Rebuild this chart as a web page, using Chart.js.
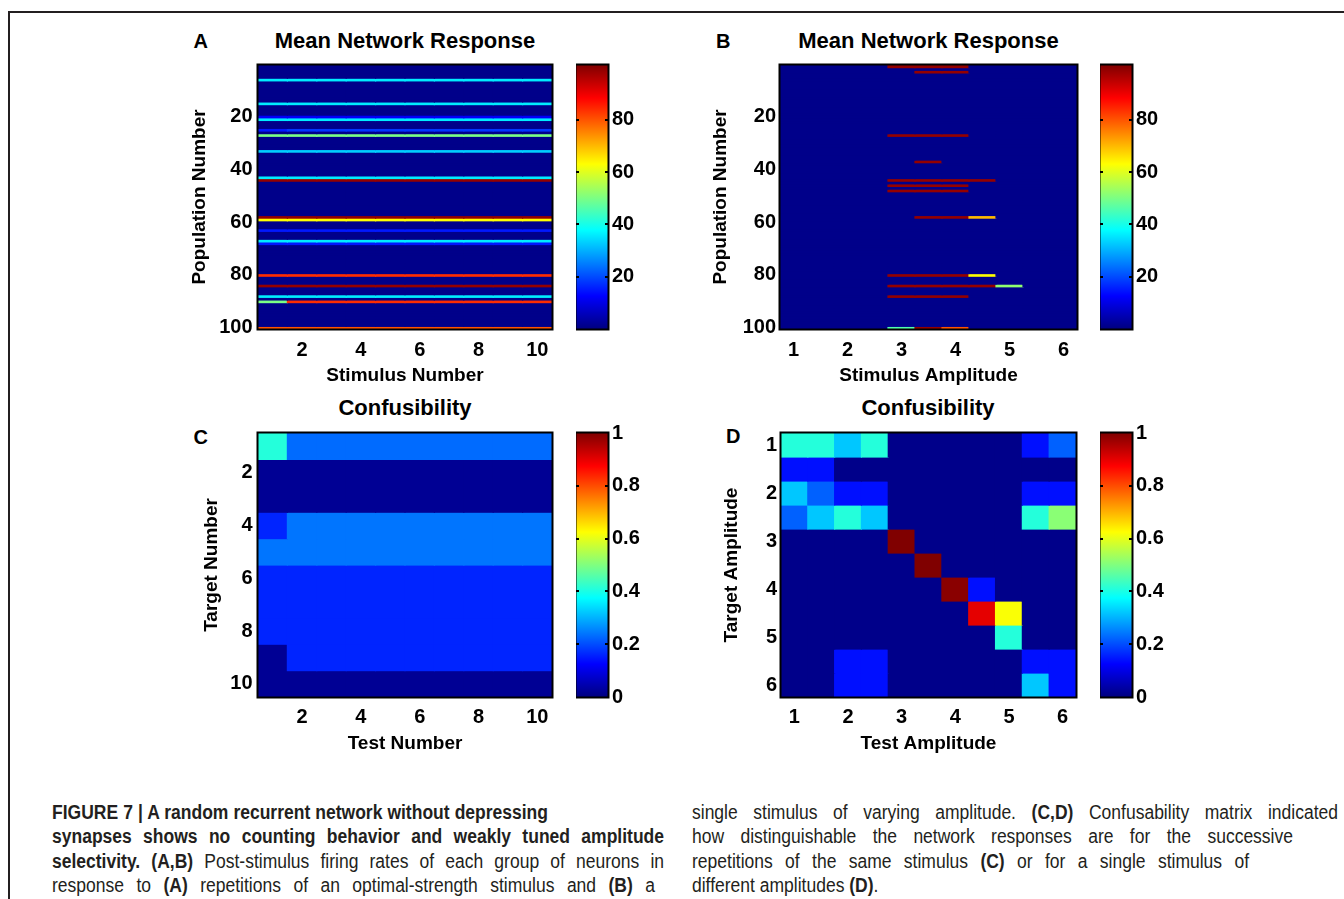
<!DOCTYPE html>
<html>
<head>
<meta charset="utf-8">
<script src="https://cdn.jsdelivr.net/npm/chart.js@4/dist/chart.umd.min.js"></script>
<style>
html,body{margin:0;padding:0;background:#fff;}
body{width:1344px;height:899px;position:relative;overflow:hidden;font-family:"Liberation Sans",Arial,Helvetica,sans-serif;}
.frame{position:absolute;left:8px;top:11px;width:1400px;height:1000px;border-left:2px solid #231f20;border-top:2px solid #231f20;}
canvas{position:absolute;}
.t{position:absolute;font-weight:bold;color:#000;white-space:nowrap;transform:translate(-50%,-50%);line-height:1;}
.ttl{font-size:22px;}
.let{font-size:20px;}
.cap{position:absolute;font-family:"Liberation Sans",Arial,sans-serif;font-size:20px;line-height:24px;color:#231f20;white-space:nowrap;transform-origin:0 50%;}
.cap b{font-weight:bold;}
</style>
</head>
<body>
<div class="frame"></div>

<div class="t let" style="left:200.7px;top:40.7px">A</div>
<div class="t ttl" style="left:405px;top:40.7px">Mean Network Response</div>
<div class="t let" style="left:723.3px;top:40.7px">B</div>
<div class="t ttl" style="left:928.5px;top:40.7px">Mean Network Response</div>
<div class="t ttl" style="left:405px;top:408.3px">Confusibility</div>
<div class="t let" style="left:200.7px;top:436.7px">C</div>
<div class="t ttl" style="left:928px;top:408.3px">Confusibility</div>
<div class="t let" style="left:733.3px;top:436px">D</div>

<canvas id="hA" width="380" height="355" style="left:180px;top:45px"></canvas>
<canvas id="cA" width="82" height="300" style="left:576px;top:45px"></canvas>
<canvas id="hB" width="385" height="355" style="left:700px;top:45px"></canvas>
<canvas id="cB" width="82" height="300" style="left:1100px;top:45px"></canvas>
<canvas id="hC" width="380" height="355" style="left:180px;top:413px"></canvas>
<canvas id="cC" width="82" height="300" style="left:576px;top:413px"></canvas>
<canvas id="hD" width="384" height="355" style="left:700px;top:413px"></canvas>
<canvas id="cD" width="82" height="300" style="left:1100px;top:413px"></canvas>

<div class="cap" data-l="52" data-r="548" data-y="812"><b>FIGURE 7 | A random recurrent network without depressing</b></div>
<div class="cap" data-l="52" data-r="664" data-y="836"><b>synapses shows no counting behavior and weakly tuned amplitude</b></div>
<div class="cap" data-l="52" data-r="664" data-y="861"><b>selectivity.</b> <b>(A,B)</b> Post-stimulus firing rates of each group of neurons in</div>
<div class="cap" data-l="52" data-r="655" data-y="885">response to <b>(A)</b> repetitions of an optimal-strength stimulus and <b>(B)</b> a</div>
<div class="cap" data-l="692" data-r="1338" data-y="812">single stimulus of varying amplitude. <b>(C,D)</b> Confusability matrix indicated</div>
<div class="cap" data-l="692" data-r="1293" data-y="836">how distinguishable the network responses are for the successive</div>
<div class="cap" data-l="692" data-r="1249" data-y="861">repetitions of the same stimulus <b>(C)</b> or for a single stimulus of</div>
<div class="cap" data-l="692" data-r="0" data-y="885">different amplitudes <b>(D)</b>.</div>

<script>
// ---------------- DATA ----------------
const stimulusNumbers = ['1','2','3','4','5','6','7','8','9','10'];
const stimulusTickLabels = ['2','4','6','8','10'];
const amplitudes = ['1','1.5','2','2.5','3','3.5','4','4.5','5','5.5','6'];
const amplitudeTickLabels = ['1','2','3','4','5','6'];
const amplitudeValues = [1,1.5,2,2.5,3,3.5,4,4.5,5,5.5,6];
const populationTicks = [20,40,60,80,100];
const amplitudeTicks = [1,2,3,4,5,6];
const targetTicks = [2,4,6,8,10];
const targetNumbers = [1,2,3,4,5,6,7,8,9,10];
const rateBarTicks = [20,40,60,80];
const confBarTicks = [0,0.2,0.4,0.6,0.8,1];
const rateRange = [0, 101];
const confRange = [0, 1];

// Panel A: mean firing rate, rows = population, cols = stimulus number
const aBaseline = 1;
const aRows = [6,15,20,21,25,27,33,43,44,58,59,63,67,68,80,84,88,90,100];
const aValues = [
  [36,36,36,36,36,36,36,36,36,36],
  [36,36,36,36,36,36,36,36,36,36],
  [12,12,12,12,12,12,12,12,12,12],
  [36,36,36,36,36,36,36,36,36,36],
  [15,18,18,18,18,18,18,18,18,18],
  [50,50,50,50,50,50,50,50,50,50],
  [33,33,33,33,33,33,33,33,33,33],
  [36,36,36,36,36,36,36,36,36,36],
  [99,99,99,99,99,99,99,99,99,99],
  [99,99,99,99,99,99,99,99,99,99],
  [63,63,63,63,63,63,63,63,63,63],
  [15,15,15,15,15,15,15,15,15,15],
  [36,36,36,36,36,36,36,36,36,36],
  [15,15,15,15,15,15,15,15,15,15],
  [84,84,84,84,84,84,84,84,84,84],
  [99,99,99,99,99,99,99,99,99,99],
  [36,36,36,36,36,36,36,36,36,36],
  [50,84,84,84,84,84,84,84,84,84],
  [80,80,80,80,80,80,80,80,80,80]
];

// Panel B: mean firing rate, rows = population, cols = stimulus amplitude
const bBaseline = 1;
const bRows = [1,3,27,37,44,46,48,58,80,84,88,100];
const bValues = [
  [1,1,1,1,99,99,99,1,1,1,1],
  [1,1,1,1,1,99,99,1,1,1,1],
  [1,1,1,1,99,99,99,1,1,1,1],
  [1,1,1,1,1,99,1,1,1,1,1],
  [1,1,1,1,99,99,99,99,1,1,1],
  [1,1,1,1,99,99,99,1,1,1,1],
  [1,1,1,1,99,99,99,1,1,1,1],
  [1,1,1,1,1,99,99,70,1,1,1],
  [1,1,1,1,99,99,99,63,1,1,1],
  [1,1,1,1,99,99,99,99,52,1,1],
  [1,1,1,1,99,99,99,1,1,1,1],
  [1,1,1,1,46,99,80,1,1,1,1]
];

// Panel C: confusibility, rows = target number, cols = test number
const confC = [
  [0.41,0.23,0.23,0.23,0.23,0.23,0.23,0.23,0.23,0.23],
  [0.02,0.02,0.02,0.02,0.02,0.02,0.02,0.02,0.02,0.02],
  [0.02,0.02,0.02,0.02,0.02,0.02,0.02,0.02,0.02,0.02],
  [0.16,0.24,0.24,0.24,0.24,0.24,0.24,0.24,0.24,0.24],
  [0.24,0.24,0.24,0.24,0.24,0.24,0.24,0.24,0.24,0.24],
  [0.16,0.16,0.16,0.16,0.16,0.16,0.16,0.16,0.16,0.16],
  [0.16,0.16,0.16,0.16,0.16,0.16,0.16,0.16,0.16,0.16],
  [0.16,0.16,0.16,0.16,0.16,0.16,0.16,0.16,0.16,0.16],
  [0.02,0.16,0.16,0.16,0.16,0.16,0.16,0.16,0.16,0.16],
  [0.02,0.02,0.02,0.02,0.02,0.02,0.02,0.02,0.02,0.02]
];

// Panel D: confusibility, rows = target amplitude, cols = test amplitude
const confD = [
  [0.41,0.41,0.32,0.41,0.01,0.01,0.01,0.01,0.01,0.14,0.22],
  [0.14,0.14,0.01,0.01,0.01,0.01,0.01,0.01,0.01,0.01,0.01],
  [0.32,0.22,0.14,0.14,0.01,0.01,0.01,0.01,0.01,0.14,0.14],
  [0.22,0.32,0.41,0.32,0.01,0.01,0.01,0.01,0.01,0.41,0.51],
  [0.01,0.01,0.01,0.01,1.00,0.01,0.01,0.01,0.01,0.01,0.01],
  [0.01,0.01,0.01,0.01,0.01,1.00,0.01,0.01,0.01,0.01,0.01],
  [0.01,0.01,0.01,0.01,0.01,0.01,0.99,0.14,0.01,0.01,0.01],
  [0.01,0.01,0.01,0.01,0.01,0.01,0.01,0.90,0.62,0.01,0.01],
  [0.01,0.01,0.01,0.01,0.01,0.01,0.01,0.01,0.41,0.01,0.01],
  [0.01,0.01,0.14,0.14,0.01,0.01,0.01,0.01,0.01,0.14,0.14],
  [0.01,0.01,0.14,0.14,0.01,0.01,0.01,0.01,0.01,0.32,0.14]
];

// ---------------- HELPERS ----------------
const jetStops = [[0,'#000080'],[0.125,'#0000ff'],[0.375,'#00ffff'],[0.625,'#ffff00'],[0.875,'#ff0000'],[1,'#800000']];
function jet(t){
  t = Math.max(0, Math.min(1, t));
  const c = x => Math.round(255 * Math.max(0, Math.min(1, x)));
  return 'rgb(' + c(1.5 - Math.abs(4*t - 3)) + ',' + c(1.5 - Math.abs(4*t - 2)) + ',' + c(1.5 - Math.abs(4*t - 1)) + ')';
}
function buildMatrix(nRows, nCols, baseline, rows, values){
  const m = [];
  for (let r = 1; r <= nRows; r++){
    const k = rows.indexOf(r);
    m.push(k >= 0 ? values[k].slice() : new Array(nCols).fill(baseline));
  }
  return m;
}
const populationNumbers = Array.from({length:100}, (_, i) => i + 1);

const tickFont = {family:'"Liberation Sans", Arial, sans-serif', size:20, weight:'bold'};
const axisFont = {family:'"Liberation Sans", Arial, sans-serif', size:19, weight:'bold'};

const boxPlugin = {
  id: 'box',
  beforeDatasetsDraw(chart, args, opts){
    if (!opts || !opts.fill) return;
    const {ctx, chartArea:a} = chart;
    ctx.save();
    ctx.fillStyle = opts.fill;
    ctx.fillRect(a.left, a.top, a.right - a.left, a.bottom - a.top);
    ctx.restore();
  },
  afterDatasetsDraw(chart){
    const {ctx, chartArea:a} = chart;
    ctx.save();
    ctx.strokeStyle = '#000';
    ctx.lineWidth = 2;
    ctx.strokeRect(a.left - 0.5, a.top - 0.5, a.right - a.left + 1, a.bottom - a.top + 1);
    ctx.restore();
  }
};
const cbTickPlugin = {
  id: 'cbticks',
  afterDatasetsDraw(chart){
    const {ctx, chartArea:a} = chart;
    const y = chart.scales.y;
    ctx.save();
    ctx.strokeStyle = '#000';
    ctx.lineWidth = 2;
    y.ticks.forEach(t => {
      if (t.value <= y.min || t.value >= y.max) return;
      const p = Math.round(y.getPixelForValue(t.value));
      ctx.beginPath();
      ctx.moveTo(a.left, p); ctx.lineTo(a.left + 3, p);
      ctx.moveTo(a.right - 3, p); ctx.lineTo(a.right, p);
      ctx.stroke();
    });
    ctx.restore();
  }
};

function heatmap(id, cfg){
  const span = cfg.range[1] - cfg.range[0];
  const datasets = cfg.matrix.map((vals, i) => ({
    data: vals.map(() => [cfg.rowKeys[i] - cfg.half, cfg.rowKeys[i] + cfg.half]),
    backgroundColor: vals.map(v => jet((v - cfg.range[0]) / span)),
    hoverBackgroundColor: vals.map(v => jet((v - cfg.range[0]) / span)),
    borderWidth: 0,
    grouped: false,
    barPercentage: 1,
    categoryPercentage: 1,
    inflateAmount: 0.6
  }));
  return new Chart(document.getElementById(id), {
    type: 'bar',
    data: {labels: cfg.xLabels, datasets},
    options: {
      responsive: false, animation: false, devicePixelRatio: 1,
      events: [],
      layout: {padding: cfg.pad},
      plugins: {legend:{display:false}, tooltip:{enabled:false}, box:{fill: jet((cfg.baseline - cfg.range[0]) / span)}},
      scales: {
        x: {
          type: 'category', offset: true,
          grid: {display:false, drawTicks:false}, border: {display:false},
          ticks: {
            autoSkip: false, maxRotation: 0, minRotation: 0, padding: cfg.xTickPad, color: '#000', font: tickFont,
            callback: function(v){ const l = this.getLabelForValue(v); return cfg.xShow.includes(l) ? l : ''; }
          },
          title: {display:true, text: cfg.xTitle, color:'#000', font: axisFont, padding:{top:0, bottom:13}},
          afterFit: s => { s.height = cfg.xHeight; }
        },
        y: {
          type: 'linear', reverse: true, min: cfg.yMin, max: cfg.yMax,
          grid: {display:false, drawTicks:false}, border: {display:false},
          afterBuildTicks: s => { s.ticks = cfg.yTicks.map(v => ({value: v})); },
          ticks: {padding: cfg.yTickPad, color:'#000', font: tickFont, callback: v => String(v)},
          title: {display:true, text: cfg.yTitle, color:'#000', font: axisFont, padding:{top: cfg.yTitlePad, bottom:0}},
          afterFit: s => { s.width = cfg.yWidth; }
        }
      }
    },
    plugins: [boxPlugin]
  });
}

function colorbar(id, cfg){
  return new Chart(document.getElementById(id), {
    type: 'bar',
    data: {labels: [''], datasets: [{
      data: [[cfg.range[0], cfg.range[1]]],
      backgroundColor: c => {
        const a = c.chart.chartArea;
        if (!a) return '#000080';
        const g = c.chart.ctx.createLinearGradient(0, a.bottom, 0, a.top);
        jetStops.forEach(s => g.addColorStop(s[0], s[1]));
        return g;
      },
      borderWidth: 0, barPercentage: 1, categoryPercentage: 1, inflateAmount: 0
    }]},
    options: {
      responsive: false, animation: false, devicePixelRatio: 1,
      events: [],
      layout: {padding: {top:20, bottom:15, left:0, right:0}},
      plugins: {legend:{display:false}, tooltip:{enabled:false}},
      scales: {
        x: {display: false},
        y: {
          position: 'right', min: cfg.range[0], max: cfg.range[1],
          grid: {display:false, drawTicks:false}, border: {display:false},
          afterBuildTicks: s => { s.ticks = cfg.ticks.map(v => ({value: v})); },
          ticks: {padding: 4, color:'#000', font: tickFont, callback: v => String(v)},
          afterFit: s => { s.width = 50; }
        }
      }
    },
    plugins: [boxPlugin, cbTickPlugin]
  });
}

// ---------------- CHARTS ----------------
heatmap('hA', {
  matrix: buildMatrix(100, 10, aBaseline, aRows, aValues), rowKeys: populationNumbers, half: 0.5,
  baseline: aBaseline, range: rateRange, xLabels: stimulusNumbers, xShow: stimulusTickLabels,
  yMin: 0.5, yMax: 100.5, yTicks: populationTicks,
  xTitle: 'Stimulus Number', yTitle: 'Population Number',
  pad: {top:20, right:8, left:0, bottom:0}, yWidth: 78, xHeight: 71,
  xTickPad: 9, yTickPad: 5.5, yTitlePad: 8.6
});
colorbar('cA', {range: rateRange, ticks: rateBarTicks});

heatmap('hB', {
  matrix: buildMatrix(100, 11, bBaseline, bRows, bValues), rowKeys: populationNumbers, half: 0.5,
  baseline: bBaseline, range: rateRange, xLabels: amplitudes, xShow: amplitudeTickLabels,
  yMin: 0.5, yMax: 100.5, yTicks: populationTicks,
  xTitle: 'Stimulus Amplitude', yTitle: 'Population Number',
  pad: {top:20, right:8, left:0, bottom:0}, yWidth: 80, xHeight: 71,
  xTickPad: 9, yTickPad: 4, yTitlePad: 9.3
});
colorbar('cB', {range: rateRange, ticks: rateBarTicks});

heatmap('hC', {
  matrix: confC, rowKeys: targetNumbers, half: 0.5,
  baseline: 0.02, range: confRange, xLabels: stimulusNumbers, xShow: stimulusTickLabels,
  yMin: 0.5, yMax: 10.5, yTicks: targetTicks,
  xTitle: 'Test Number', yTitle: 'Target Number',
  pad: {top:20, right:8, left:0, bottom:0}, yWidth: 78, xHeight: 71,
  xTickPad: 8, yTickPad: 5.5, yTitlePad: 20.3
});
colorbar('cC', {range: confRange, ticks: confBarTicks});

heatmap('hD', {
  matrix: confD, rowKeys: amplitudeValues, half: 0.25,
  baseline: 0.01, range: confRange, xLabels: amplitudes, xShow: amplitudeTickLabels,
  yMin: 0.75, yMax: 6.25, yTicks: amplitudeTicks,
  xTitle: 'Test Amplitude', yTitle: 'Target Amplitude',
  pad: {top:20, right:8, left:0, bottom:0}, yWidth: 81, xHeight: 71,
  xTickPad: 8, yTickPad: 4, yTitlePad: 20.3
});
colorbar('cD', {range: confRange, ticks: confBarTicks});

// ---------------- CAPTION LAYOUT ----------------
const CONDENSE = 0.875;
document.querySelectorAll('.cap').forEach(el => {
  const l = +el.dataset.l, r = +el.dataset.r, y = +el.dataset.y;
  el.style.left = l + 'px';
  el.style.top = (y - 12) + 'px';
  const natural = el.getBoundingClientRect().width;
  const spaces = (el.textContent.match(/ /g) || []).length;
  let scale = CONDENSE, ws = 0;
  if (r > 0 && spaces > 0) {
    const target = r - l;
    ws = (target / scale - natural) / spaces;
    if (ws < 0) { ws = 0; scale = target / natural; }
  }
  el.style.wordSpacing = ws + 'px';
  el.style.transform = 'scaleX(' + scale + ')';
});
</script>
</body>
</html>
